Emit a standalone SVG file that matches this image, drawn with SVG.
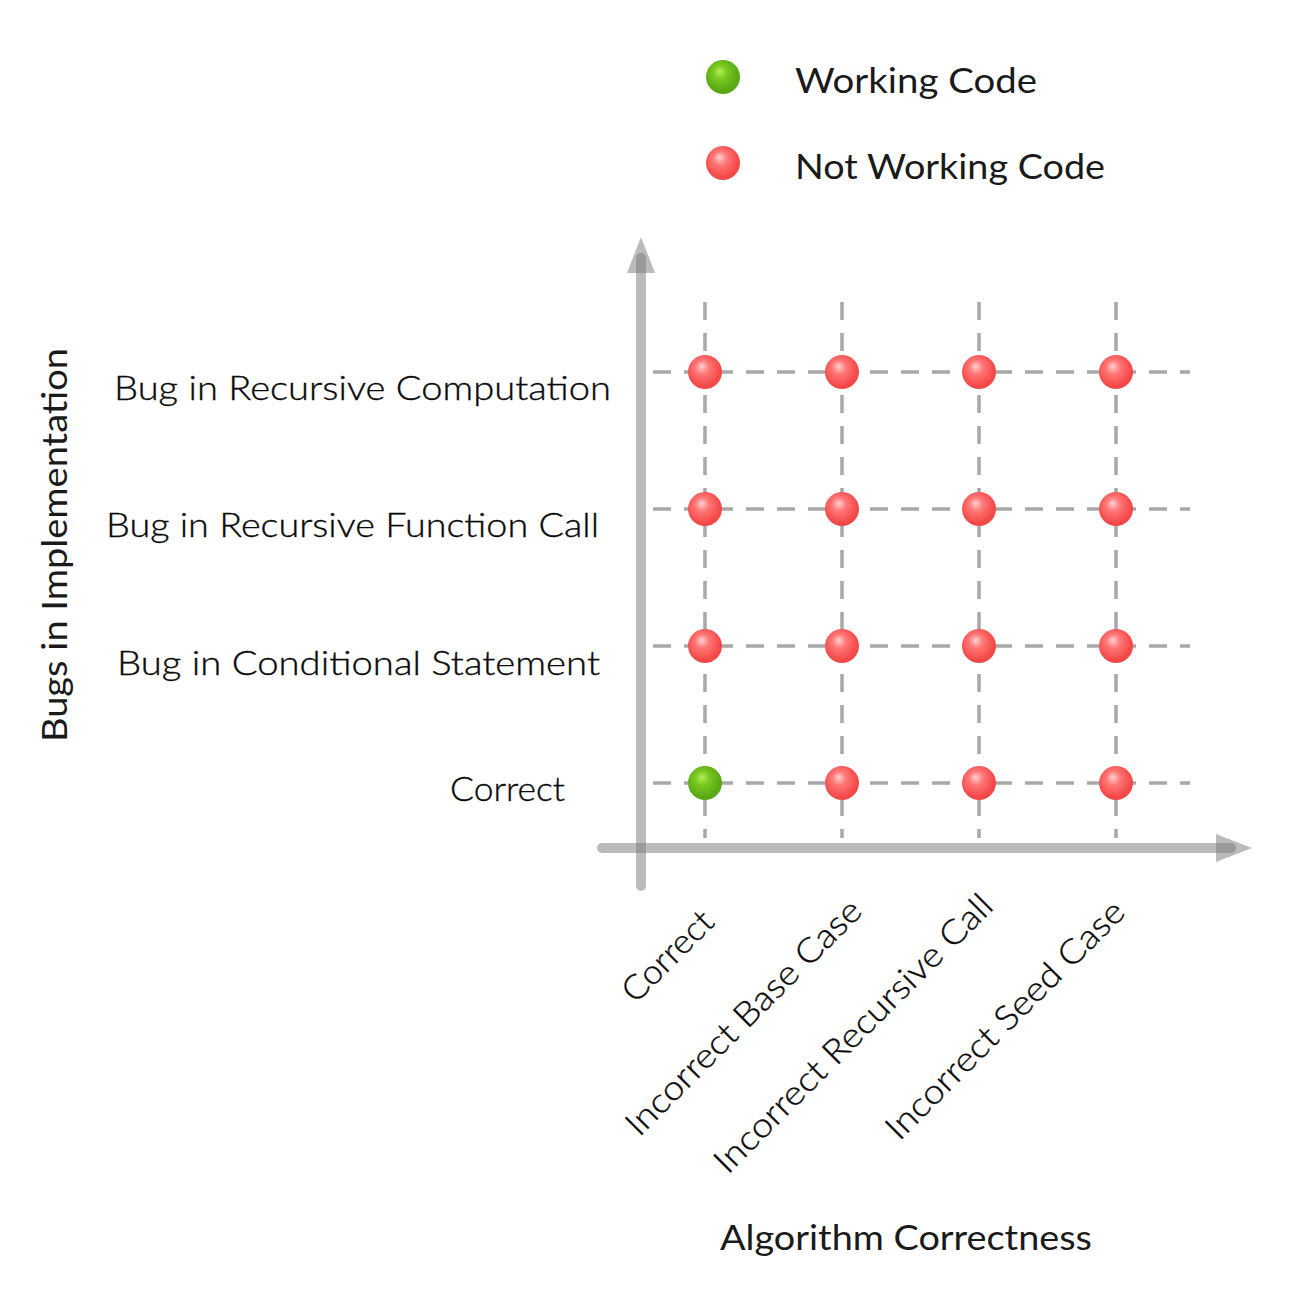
<svg xmlns="http://www.w3.org/2000/svg" width="1314" height="1306" viewBox="0 0 1314 1306">
<defs>
<radialGradient id="gRed" cx="0.45" cy="0.42" r="0.6" fx="0.4" fy="0.33">
<stop offset="0" stop-color="#ffd0d0"/>
<stop offset="0.35" stop-color="#ff7676"/>
<stop offset="0.85" stop-color="#f54848"/>
<stop offset="1" stop-color="#ee4a4a"/>
</radialGradient>
<radialGradient id="gGreen" cx="0.45" cy="0.42" r="0.6" fx="0.4" fy="0.33">
<stop offset="0" stop-color="#b6f05a"/>
<stop offset="0.35" stop-color="#78c820"/>
<stop offset="0.85" stop-color="#5aa814"/>
<stop offset="1" stop-color="#5ca81c"/>
</radialGradient>
<style>
.t{font-family:"Lato","Noto Sans","Liberation Sans",sans-serif;font-size:34px;fill:#1a1a1a}
.l{font-weight:300;fill:#0a0a0a;stroke:#0a0a0a;stroke-width:0.35}
.grid{stroke:#a8a8a8;stroke-width:3.5;stroke-dasharray:18 13;fill:none}
.axis{stroke:#777;stroke-opacity:0.5;stroke-width:10;stroke-linecap:round;fill:none}
.head{fill:#777;fill-opacity:0.5}
.r{fill:url(#gRed)}
.g{fill:url(#gGreen)}
</style>
</defs>
<rect width="1314" height="1306" fill="#fff"/>

<g id="legend">
<circle class="g" cx="723" cy="77" r="17"/>
<text class="t" x="795" y="93" textLength="242" lengthAdjust="spacingAndGlyphs">Working Code</text>
<circle class="r" cx="723" cy="163" r="17"/>
<text class="t" x="795" y="179" textLength="310" lengthAdjust="spacingAndGlyphs">Not Working Code</text>
</g>

<g id="grid">
<line class="grid" x1="705" y1="302" x2="705" y2="838"/>
<line class="grid" x1="842" y1="302" x2="842" y2="838"/>
<line class="grid" x1="979" y1="302" x2="979" y2="838"/>
<line class="grid" x1="1116" y1="302" x2="1116" y2="838"/>
<line class="grid" x1="653" y1="372" x2="1190" y2="372"/>
<line class="grid" x1="653" y1="509" x2="1190" y2="509"/>
<line class="grid" x1="653" y1="646" x2="1190" y2="646"/>
<line class="grid" x1="653" y1="783" x2="1190" y2="783"/>
</g>

<g id="axes">
<line class="axis" x1="641" y1="886" x2="641" y2="258"/>
<polygon class="head" points="641,237 655,273 627,273"/>
<line class="axis" x1="602" y1="848" x2="1231" y2="848"/>
<polygon class="head" points="1252,848 1216,834 1216,862"/>
</g>

<g id="points">
<circle class="r" cx="705" cy="372" r="17"/>
<circle class="r" cx="842" cy="372" r="17"/>
<circle class="r" cx="979" cy="372" r="17"/>
<circle class="r" cx="1116" cy="372" r="17"/>
<circle class="r" cx="705" cy="509" r="17"/>
<circle class="r" cx="842" cy="509" r="17"/>
<circle class="r" cx="979" cy="509" r="17"/>
<circle class="r" cx="1116" cy="509" r="17"/>
<circle class="r" cx="705" cy="646" r="17"/>
<circle class="r" cx="842" cy="646" r="17"/>
<circle class="r" cx="979" cy="646" r="17"/>
<circle class="r" cx="1116" cy="646" r="17"/>
<circle class="g" cx="705" cy="783" r="17"/>
<circle class="r" cx="842" cy="783" r="17"/>
<circle class="r" cx="979" cy="783" r="17"/>
<circle class="r" cx="1116" cy="783" r="17"/>
</g>

<g id="y-labels">
<text class="t l" x="114" y="400" textLength="497" lengthAdjust="spacingAndGlyphs">Bug in Recursive Computation</text>
<text class="t l" x="106" y="537" textLength="493" lengthAdjust="spacingAndGlyphs">Bug in Recursive Function Call</text>
<text class="t l" x="117" y="675" textLength="483" lengthAdjust="spacingAndGlyphs">Bug in Conditional Statement</text>
<text class="t l" x="450" y="801" textLength="115" lengthAdjust="spacingAndGlyphs">Correct</text>
</g>

<g id="y-title">
<text class="t" transform="translate(67,545) rotate(-90)" text-anchor="middle" textLength="394" lengthAdjust="spacingAndGlyphs">Bugs in Implementation</text>
</g>

<g id="x-labels">
<text class="t l" transform="translate(716,924) rotate(-45)" text-anchor="end" textLength="114" lengthAdjust="spacingAndGlyphs">Correct</text>
<text class="t l" transform="translate(864,913) rotate(-45)" text-anchor="end" textLength="318" lengthAdjust="spacingAndGlyphs">Incorrect Base Case</text>
<text class="t l" transform="translate(995,908) rotate(-45)" text-anchor="end" textLength="378" lengthAdjust="spacingAndGlyphs">Incorrect Recursive Call</text>
<text class="t l" transform="translate(1127,914) rotate(-45)" text-anchor="end" textLength="322" lengthAdjust="spacingAndGlyphs">Incorrect Seed Case</text>
</g>

<g id="x-title">
<text class="t" x="720" y="1250" textLength="372" lengthAdjust="spacingAndGlyphs">Algorithm Correctness</text>
</g>
</svg>
